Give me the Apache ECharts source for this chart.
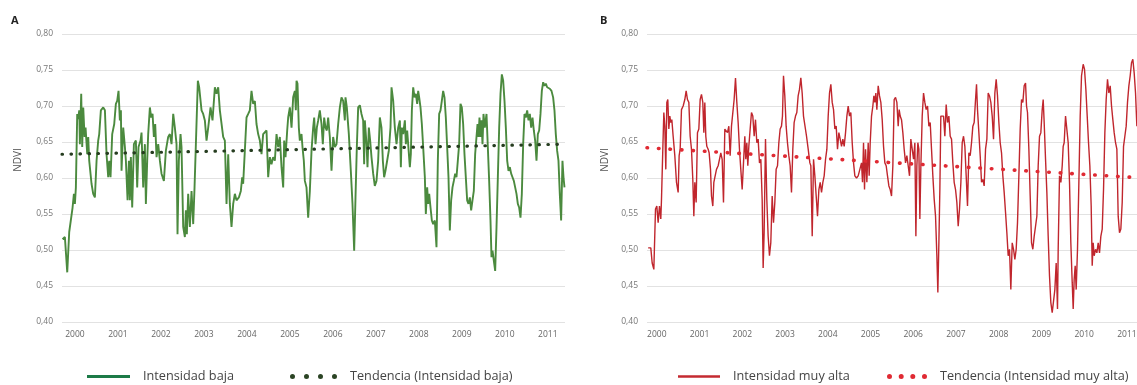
<!DOCTYPE html>
<html>
<head>
<meta charset="utf-8">
<script src="https://cdn.jsdelivr.net/npm/echarts@6/dist/echarts.min.js"></script>
<style>
  html, body { margin: 0; padding: 0; background: #fff; }
  #NdviChart { width: 1137px; height: 385px; }
</style>
</head>
<body>
<div id="NdviChart"></div>
<script>
// años que se marcan en el eje X
var yearTicks = [2000, 2001, 2002, 2003, 2004, 2005, 2006, 2007, 2008, 2009, 2010, 2011];
var ndviTicks = [0.40, 0.45, 0.50, 0.55, 0.60, 0.65, 0.70, 0.75, 0.80];

// A - Intensidad baja [año, NDVI]
var ndviBaja = [
  [1999.713,0.515],[1999.767,0.518],[1999.822,0.469],[1999.868,0.525],[1999.907,0.527],[1999.946,0.559],
  [1999.977,0.578],[2000.000,0.564],[2000.023,0.587],[2000.054,0.689],[2000.077,0.682],[2000.101,0.694],
  [2000.116,0.647],[2000.147,0.717],[2000.170,0.643],[2000.194,0.698],[2000.225,0.657],[2000.248,0.670],
  [2000.287,0.633],[2000.310,0.657],[2000.333,0.624],[2000.387,0.592],[2000.426,0.578],[2000.465,0.573],
  [2000.504,0.624],[2000.542,0.652],[2000.566,0.661],[2000.604,0.694],[2000.659,0.698],[2000.698,0.694],
  [2000.736,0.633],[2000.775,0.601],[2000.798,0.624],[2000.829,0.601],[2000.868,0.661],[2000.915,0.675],
  [2000.953,0.703],[2000.984,0.707],[2001.015,0.721],[2001.046,0.680],[2001.070,0.694],[2001.085,0.610],
  [2001.124,0.670],[2001.163,0.643],[2001.186,0.624],[2001.225,0.569],[2001.256,0.624],[2001.279,0.569],
  [2001.302,0.629],[2001.333,0.559],[2001.372,0.647],[2001.418,0.652],[2001.449,0.587],[2001.480,0.643],
  [2001.527,0.652],[2001.550,0.663],[2001.589,0.587],[2001.628,0.647],[2001.651,0.564],[2001.682,0.624],
  [2001.705,0.661],[2001.744,0.698],[2001.775,0.684],[2001.806,0.689],[2001.837,0.657],[2001.868,0.675],
  [2001.899,0.629],[2001.938,0.647],[2001.977,0.624],[2002.015,0.606],[2002.070,0.596],[2002.116,0.638],
  [2002.170,0.657],[2002.209,0.661],[2002.248,0.647],[2002.287,0.689],[2002.325,0.670],[2002.364,0.647],
  [2002.387,0.522],[2002.418,0.624],[2002.457,0.661],[2002.480,0.643],[2002.519,0.532],[2002.558,0.518],
  [2002.581,0.555],[2002.604,0.522],[2002.635,0.578],[2002.674,0.532],[2002.713,0.582],[2002.752,0.536],
  [2002.783,0.587],[2002.814,0.647],[2002.860,0.735],[2002.891,0.726],[2002.946,0.694],[2002.984,0.689],
  [2003.023,0.680],[2003.062,0.652],[2003.101,0.670],[2003.155,0.698],[2003.201,0.680],[2003.256,0.726],
  [2003.294,0.717],[2003.333,0.726],[2003.372,0.694],[2003.449,0.657],
  [2003.488,0.652],[2003.527,0.564],[2003.566,0.633],[2003.604,0.564],[2003.643,0.532],[2003.682,0.564],
  [2003.721,0.578],[2003.759,0.569],[2003.814,0.573],[2003.860,0.582],[2003.891,0.601],[2003.914,0.592],
  [2003.953,0.638],[2003.992,0.684],[2004.031,0.689],[2004.069,0.694],[2004.108,0.721],[2004.147,0.703],
  [2004.186,0.707],[2004.224,0.675],[2004.263,0.661],[2004.302,0.652],[2004.341,0.633],[2004.379,0.661],
  [2004.418,0.663],[2004.457,0.666],[2004.496,0.601],[2004.535,0.629],[2004.573,0.619],[2004.612,0.629],
  [2004.651,0.624],[2004.690,0.661],[2004.729,0.643],[2004.767,0.657],[2004.806,0.615],[2004.845,0.587],
  [2004.868,0.652],[2004.899,0.629],[2004.938,0.666],[2004.961,0.684],[2005.000,0.698],[2005.039,0.670],
  [2005.077,0.712],[2005.116,0.721],[2005.139,0.694],[2005.155,0.735],[2005.178,0.731],[2005.209,0.670],
  [2005.232,0.652],[2005.271,0.661],[2005.294,0.643],[2005.325,0.624],[2005.349,0.596],[2005.387,0.587],
  [2005.426,0.545],[2005.465,0.582],[2005.504,0.638],[2005.542,0.670],[2005.566,0.684],[2005.597,0.647],
  [2005.628,0.670],[2005.659,0.680],[2005.697,0.694],[2005.736,0.675],[2005.767,0.647],[2005.798,0.684],
  [2005.829,0.670],[2005.860,0.666],[2005.891,0.684],[2005.930,0.657],[2005.969,0.610],[2006.007,0.657],
  [2006.046,0.643],[2006.085,0.647],[2006.124,0.675],[2006.163,0.698],[2006.201,0.712],[2006.240,0.707],
  [2006.279,0.680],[2006.294,0.712],[2006.325,0.698],[2006.372,0.661],[2006.418,0.610],[2006.457,0.564],
  [2006.496,0.499],[2006.527,0.573],[2006.558,0.643],[2006.589,0.698],[2006.628,0.701],[2006.666,0.689],
  [2006.705,0.680],[2006.728,0.619],[2006.744,0.680],[2006.783,0.647],[2006.806,0.615],[2006.837,0.670],
  [2006.868,0.652],[2006.899,0.629],[2006.938,0.606],[2006.976,0.589],[2007.015,0.596],[2007.054,0.624],
  [2007.093,0.684],[2007.131,0.670],[2007.163,0.624],[2007.193,0.601],[2007.224,0.610],[2007.263,0.624],
  [2007.302,0.638],[2007.341,0.670],
  [2007.365,0.726],[2007.404,0.707],[2007.442,0.670],[2007.481,0.647],[2007.520,0.670],[2007.559,0.680],
  [2007.582,0.615],[2007.605,0.670],[2007.636,0.661],[2007.675,0.680],[2007.698,0.647],[2007.729,0.666],
  [2007.752,0.647],[2007.791,0.615],[2007.814,0.633],[2007.838,0.694],[2007.869,0.726],[2007.900,0.712],
  [2007.931,0.717],[2007.962,0.703],[2007.985,0.721],[2008.008,0.712],[2008.039,0.698],[2008.070,0.675],
  [2008.101,0.643],[2008.140,0.601],[2008.163,0.550],[2008.194,0.587],[2008.217,0.564],[2008.241,0.578],
  [2008.272,0.559],[2008.303,0.541],[2008.334,0.536],[2008.372,0.541],[2008.411,0.504],[2008.442,0.624],
  [2008.473,0.689],[2008.504,0.694],[2008.535,0.707],[2008.566,0.721],[2008.597,0.712],[2008.628,0.684],
  [2008.659,0.643],[2008.690,0.601],[2008.721,0.527],[2008.752,0.569],[2008.783,0.587],[2008.814,0.596],
  [2008.845,0.606],[2008.876,0.601],[2008.907,0.624],[2008.938,0.647],[2008.969,0.703],[2009.000,0.698],
  [2009.031,0.675],[2009.062,0.633],[2009.093,0.601],[2009.124,0.569],[2009.155,0.564],[2009.186,0.573],
  [2009.217,0.555],[2009.248,0.569],[2009.279,0.582],[2009.310,0.633],[2009.341,0.657],[2009.365,0.675],
  [2009.388,0.657],[2009.411,0.684],[2009.434,0.657],[2009.458,0.680],[2009.481,0.647],[2009.504,0.689],
  [2009.535,0.670],[2009.574,0.689],[2009.605,0.643],[2009.636,0.596],[2009.667,0.541],[2009.690,0.490],
  [2009.714,0.499],[2009.745,0.485],[2009.776,0.471],[2009.807,0.532],[2009.838,0.601],[2009.869,0.670],
  [2009.900,0.717],[2009.931,0.744],[2009.962,0.735],[2009.993,0.707],[2010.024,0.670],[2010.055,0.624],
  [2010.086,0.610],[2010.117,0.615],[2010.148,0.606],[2010.179,0.601],[2010.210,0.596],[2010.241,0.587],
  [2010.272,0.578],[2010.303,0.564],[2010.334,0.559],[2010.365,0.545],[2010.396,0.578],[2010.427,0.647],
  [2010.458,0.689],[2010.489,0.684],[2010.520,0.694],[2010.551,0.680],[2010.582,0.689],[2010.613,0.670],
  [2010.644,0.684],[2010.675,0.666],[2010.706,0.652],[2010.737,0.624],[2010.768,0.661],[2010.799,0.666],
  [2010.830,0.689],[2010.861,0.721],[2010.892,0.733],[2010.923,0.728],[2010.954,0.731],[2010.985,0.726],
  [2011.016,0.728],[2011.047,0.724],[2011.086,0.721],[2011.124,0.712],[2011.155,0.694],[2011.186,0.661],
  [2011.217,0.638],[2011.248,0.624],[2011.279,0.578],[2011.310,0.541],[2011.341,0.624],[2011.365,0.601],
  [2011.388,0.587]
];

// B - Intensidad muy alta [año, NDVI]
var ndviMuyAlta = [
  [1999.797,0.503],[1999.859,0.503],[1999.891,0.482],[1999.930,0.473],[1999.969,0.557],[2000.000,0.561],
  [2000.031,0.538],[2000.062,0.561],[2000.093,0.543],[2000.109,0.570],[2000.140,0.640],[2000.164,0.691],
  [2000.187,0.672],[2000.210,0.612],[2000.234,0.705],[2000.257,0.709],[2000.281,0.668],[2000.304,0.686],
  [2000.327,0.677],[2000.351,0.681],[2000.382,0.658],[2000.421,0.631],[2000.460,0.594],[2000.499,0.580],
  [2000.522,0.631],[2000.546,0.640],[2000.577,0.695],[2000.616,0.700],[2000.655,0.709],[2000.686,0.721],
  [2000.717,0.709],[2000.749,0.705],[2000.780,0.658],[2000.811,0.640],[2000.842,0.598],[2000.866,0.547],
  [2000.889,0.594],[2000.920,0.566],[2000.951,0.663],[2000.983,0.668],[2001.014,0.709],[2001.045,0.716],
  [2001.076,0.705],[2001.100,0.663],[2001.123,0.705],[2001.146,0.658],[2001.170,0.644],[2001.201,0.640],
  [2001.224,0.635],[2001.256,0.612],[2001.279,0.575],[2001.310,0.561],[2001.334,0.594],[2001.365,0.594],
  [2001.396,0.612],[2001.435,0.617],[2001.466,0.626],[2001.497,0.635],[2001.529,0.626],[2001.560,0.566],
  [2001.591,0.668],[2001.622,0.670],[2001.653,0.663],[2001.685,0.672],[2001.716,0.631],[2001.747,0.672],
  [2001.778,0.672],[2001.809,0.709],[2001.841,0.739],[2001.872,0.705],[2001.903,0.677],[2001.934,0.640],
  [2001.965,0.612],[2001.997,0.584],[2002.028,0.621],[2002.059,0.658],[2002.082,0.626],[2002.106,0.649],
  [2002.129,0.617],[2002.153,0.644],[2002.184,0.668],[2002.215,0.691],[2002.246,0.686],[2002.278,0.658],
  [2002.309,0.681],[2002.340,0.649],[2002.371,0.654],[2002.402,0.621],[2002.434,0.626],[2002.465,0.570],
  [2002.488,0.475],[2002.511,0.524],[2002.543,0.654],[2002.574,0.570],[2002.605,0.519],[2002.636,0.492],
  [2002.667,0.510],[2002.699,0.575],[2002.730,0.538],[2002.761,0.566],[2002.792,0.612],[2002.824,0.617],
  [2002.855,0.649],[2002.886,0.668],[2002.917,0.672],[2002.940,0.686],[2002.964,0.742],[2002.995,0.714],
  [2003.026,0.672],[2003.057,0.649],[2003.089,0.631],[2003.120,0.617],[2003.151,0.580],[2003.182,0.640],
  [2003.213,0.677],[2003.245,0.686],[2003.276,0.691],[2003.307,0.714],[2003.338,0.723],[2003.370,0.739],
  [2003.401,0.718],[2003.432,0.686],
  [2003.464,0.686],[2003.503,0.658],[2003.542,0.640],[2003.581,0.621],[2003.604,0.617],[2003.636,0.519],
  [2003.667,0.626],[2003.698,0.603],[2003.729,0.575],[2003.760,0.547],[2003.792,0.584],[2003.823,0.594],
  [2003.854,0.580],[2003.885,0.594],[2003.916,0.603],[2003.948,0.626],[2003.979,0.640],[2004.010,0.686],
  [2004.041,0.718],[2004.072,0.730],[2004.104,0.705],[2004.135,0.695],[2004.166,0.668],[2004.197,0.672],
  [2004.228,0.640],[2004.260,0.663],[2004.291,0.654],[2004.322,0.644],[2004.353,0.654],[2004.384,0.644],
  [2004.416,0.663],[2004.447,0.686],[2004.478,0.700],[2004.509,0.686],[2004.540,0.691],[2004.572,0.649],
  [2004.603,0.621],[2004.634,0.603],[2004.673,0.600],[2004.712,0.603],[2004.751,0.612],[2004.790,0.621],
  [2004.813,0.594],[2004.837,0.649],[2004.860,0.584],[2004.884,0.640],[2004.915,0.594],[2004.946,0.649],
  [2004.969,0.603],[2004.993,0.649],[2005.024,0.686],[2005.055,0.700],[2005.079,0.714],[2005.102,0.705],
  [2005.125,0.718],[2005.149,0.695],[2005.180,0.728],[2005.211,0.714],[2005.242,0.705],[2005.274,0.681],
  [2005.305,0.644],[2005.336,0.621],[2005.367,0.617],[2005.398,0.603],[2005.430,0.589],[2005.461,0.584],
  [2005.492,0.575],[2005.523,0.617],[2005.554,0.709],[2005.586,0.712],[2005.617,0.705],[2005.648,0.672],
  [2005.671,0.695],[2005.695,0.686],[2005.726,0.681],[2005.757,0.663],[2005.788,0.640],[2005.820,0.621],
  [2005.851,0.631],[2005.882,0.617],[2005.913,0.603],[2005.944,0.654],[2005.976,0.640],[2006.007,0.626],
  [2006.038,0.649],[2006.062,0.519],[2006.085,0.617],[2006.108,0.649],[2006.132,0.640],[2006.155,0.543],
  [2006.179,0.617],[2006.210,0.686],[2006.241,0.718],[2006.272,0.705],[2006.303,0.695],[2006.335,0.700],
  [2006.366,0.672],[2006.397,0.677],[2006.428,0.640],[2006.459,0.603],[2006.491,0.570],[2006.522,0.547],
  [2006.553,0.492],[2006.576,0.441],[2006.600,0.510],[2006.623,0.584],[2006.646,0.686],[2006.678,0.688],
  [2006.709,0.686],[2006.740,0.658],[2006.771,0.702],[2006.802,0.677],[2006.834,0.686],[2006.865,0.658],
  [2006.896,0.654],[2006.927,0.621],[2006.958,0.594],[2006.990,0.584],[2007.021,0.566],[2007.052,0.533],
  [2007.083,0.557],[2007.115,0.594],[2007.146,0.649],[2007.177,0.658],
  [2007.208,0.644],[2007.239,0.603],[2007.270,0.561],[2007.302,0.635],[2007.333,0.631],[2007.364,0.649],
  [2007.395,0.672],[2007.426,0.677],[2007.458,0.709],[2007.481,0.730],[2007.504,0.695],[2007.536,0.663],
  [2007.567,0.631],[2007.598,0.594],[2007.629,0.598],[2007.660,0.589],[2007.692,0.640],[2007.723,0.654],
  [2007.754,0.718],[2007.785,0.714],[2007.816,0.705],[2007.848,0.686],[2007.879,0.654],[2007.910,0.718],
  [2007.941,0.737],[2007.972,0.714],[2008.004,0.677],[2008.035,0.649],[2008.066,0.635],[2008.097,0.603],
  [2008.128,0.580],[2008.160,0.552],[2008.191,0.524],[2008.222,0.492],[2008.253,0.501],[2008.284,0.445],
  [2008.316,0.510],[2008.347,0.501],[2008.378,0.487],[2008.409,0.501],[2008.440,0.538],[2008.472,0.603],
  [2008.503,0.668],[2008.534,0.709],[2008.565,0.705],[2008.596,0.728],[2008.628,0.732],[2008.651,0.700],
  [2008.674,0.691],[2008.706,0.640],[2008.737,0.575],[2008.768,0.510],[2008.799,0.501],[2008.830,0.519],
  [2008.862,0.533],[2008.893,0.547],[2008.924,0.617],[2008.955,0.658],[2008.986,0.663],[2009.018,0.695],
  [2009.041,0.709],[2009.064,0.677],[2009.096,0.626],[2009.127,0.580],[2009.158,0.519],[2009.189,0.464],
  [2009.220,0.427],[2009.252,0.413],[2009.283,0.411],[2009.314,0.445],[2009.345,0.482],[2009.376,0.418],
  [2009.392,0.501],[2009.423,0.603],[2009.455,0.594],[2009.486,0.617],[2009.509,0.644],[2009.532,0.649],
  [2009.564,0.686],[2009.595,0.688],[2009.626,0.649],[2009.657,0.594],[2009.688,0.510],[2009.720,0.455],
  [2009.743,0.418],[2009.766,0.459],[2009.790,0.478],[2009.813,0.445],[2009.844,0.501],[2009.876,0.594],
  [2009.907,0.686],[2009.938,0.742],[2009.977,0.758],[2010.008,0.751],[2010.040,0.723],[2010.071,0.686],
  [2010.102,0.649],[2010.133,0.617],[2010.164,0.561],[2010.188,0.478],[2010.211,0.510],[2010.234,0.492],
  [2010.266,0.501],[2010.297,0.496],[2010.328,0.510],[2010.359,0.496],[2010.390,0.519],[2010.422,0.529],
  [2010.453,0.584],[2010.484,0.663],[2010.515,0.709],[2010.546,0.737],[2010.578,0.718],[2010.609,0.728],
  [2010.640,0.700],[2010.671,0.681],[2010.702,0.663],[2010.734,0.649],[2010.765,0.640],[2010.796,0.547],
  [2010.827,0.524],[2010.858,0.529],[2010.890,0.566],[2010.921,0.644],[2010.952,0.658],[2010.983,0.672],
  [2011.014,0.705],[2011.046,0.728],[2011.077,0.742],[2011.108,0.760],[2011.139,0.765],[2011.170,0.746],
  [2011.202,0.718],[2011.233,0.672]
];

// rectas de tendencia
var trendBaja = [[1999.70, 0.633], [2011.40, 0.647]];
var trendMuyAlta = [[1999.77, 0.642], [2011.40, 0.600]];

var font = "'Open Sans', 'Noto Sans', sans-serif";

function yAxisCfg(gridIndex) {
  return {
    type: 'value',
    gridIndex: gridIndex,
    min: 0.40,
    max: 0.80,
    interval: 0.05,
    axisLine: { show: false },
    axisTick: { show: false },
    splitLine: { lineStyle: { color: '#e2e2e2', width: 1 } },
    axisLabel: {
      color: '#777',
      fontSize: 8.5,
      fontFamily: font,
      margin: 9,
      formatter: function (v) { return v.toFixed(2).replace('.', ','); }
    }
  };
}

function xAxisCfg(gridIndex, min) {
  return {
    type: 'value',
    gridIndex: gridIndex,
    min: min,
    max: 2011.40,
    axisLine: { show: false },
    axisTick: { show: false },
    splitLine: { show: false },
    axisLabel: {
      customValues: yearTicks,
      color: '#666',
      fontSize: 8.5,
      fontFamily: font,
      margin: 8,
      formatter: function (v) { return String(Math.round(v)); }
    }
  };
}

var dotsA = 'path://M0,2.5a2.5,2.5 0 1,0 5,0a2.5,2.5 0 1,0 -5,0M14,2.5a2.5,2.5 0 1,0 5,0a2.5,2.5 0 1,0 -5,0M28,2.5a2.5,2.5 0 1,0 5,0a2.5,2.5 0 1,0 -5,0M42,2.5a2.5,2.5 0 1,0 5,0a2.5,2.5 0 1,0 -5,0';
var dotsB = 'path://M0,2.5a2.5,2.5 0 1,0 5,0a2.5,2.5 0 1,0 -5,0M11.7,2.5a2.5,2.5 0 1,0 5,0a2.5,2.5 0 1,0 -5,0M23.3,2.5a2.5,2.5 0 1,0 5,0a2.5,2.5 0 1,0 -5,0M35,2.5a2.5,2.5 0 1,0 5,0a2.5,2.5 0 1,0 -5,0';

function legendCfg(left, name, icon, w, h, color) {
  return {
    left: left,
    top: 370,
    padding: 0,
    itemWidth: w,
    itemHeight: h,
    selectedMode: false,
    textStyle: { color: '#444', fontSize: 12.7, fontFamily: font, padding: [0, 0, 0, 8] },
    data: [{ name: name, icon: icon, itemStyle: { color: color, borderWidth: 0 } }]
  };
}

var options = {
  animation: false,
  backgroundColor: '#fff',
  grid: [
    { left: 62, width: 503, top: 34, height: 288, outerBoundsMode: 'none' },
    { left: 647, width: 497, top: 34, height: 288, outerBoundsMode: 'none' }
  ],
  xAxis: [xAxisCfg(0, 1999.70), xAxisCfg(1, 1999.77)],
  yAxis: [yAxisCfg(0), yAxisCfg(1)],
  legend: [
    legendCfg(87, 'Intensidad baja', 'rect', 43, 3, '#1c7a47'),
    legendCfg(290, 'Tendencia (Intensidad baja)', dotsA, 47, 5, '#2b4424'),
    legendCfg(678, 'Intensidad muy alta', 'rect', 42, 2.5, '#c42a30'),
    legendCfg(887, 'Tendencia (Intensidad muy alta)', dotsB, 40, 5, '#e02a33')
  ],
  graphic: [
    { type: 'text', left: 11, top: 15, style: { text: 'A', fontSize: 11, fontWeight: 'bold', fill: '#222', fontFamily: font } },
    { type: 'text', left: 600, top: 15, style: { text: 'B', fontSize: 11, fontWeight: 'bold', fill: '#222', fontFamily: font } },
    { type: 'text', x: 18, y: 160, rotation: Math.PI / 2,
      style: { text: 'NDVI', fontSize: 10, fill: '#555', fontFamily: font, align: 'center', verticalAlign: 'middle' } },
    { type: 'text', x: 605, y: 160, rotation: Math.PI / 2,
      style: { text: 'NDVI', fontSize: 10, fill: '#555', fontFamily: font, align: 'center', verticalAlign: 'middle' } }
  ],
  series: [
    {
      name: 'Intensidad baja', type: 'line', xAxisIndex: 0, yAxisIndex: 0,
      showSymbol: false, symbol: 'none', z: 2,
      itemStyle: { color: '#4b8a3e' },
      lineStyle: { color: '#4b8a3e', width: 1.9 },
      data: ndviBaja
    },
    {
      name: 'Tendencia (Intensidad baja)', type: 'line', xAxisIndex: 0, yAxisIndex: 0,
      showSymbol: false, symbol: 'none', z: 3,
      itemStyle: { color: '#263d20' },
      lineStyle: { color: '#263d20', width: 3.2, type: [0.5, 8.5], cap: 'round' },
      data: trendBaja
    },
    {
      name: 'Intensidad muy alta', type: 'line', xAxisIndex: 1, yAxisIndex: 1,
      showSymbol: false, symbol: 'none', z: 2,
      itemStyle: { color: '#c0262d' },
      lineStyle: { color: '#c0262d', width: 1.4 },
      data: ndviMuyAlta
    },
    {
      name: 'Tendencia (Intensidad muy alta)', type: 'line', xAxisIndex: 1, yAxisIndex: 1,
      showSymbol: false, symbol: 'none', z: 3,
      itemStyle: { color: '#e02a33' },
      lineStyle: { color: '#e02a33', width: 3.6, type: [0.5, 11], cap: 'round' },
      data: trendMuyAlta
    }
  ]
};

var myEcharts = echarts.init(document.getElementById('NdviChart'));
myEcharts.setOption(options, true);
window.addEventListener('resize', function () {
  myEcharts.resize();
});
</script>
</body>
</html>
